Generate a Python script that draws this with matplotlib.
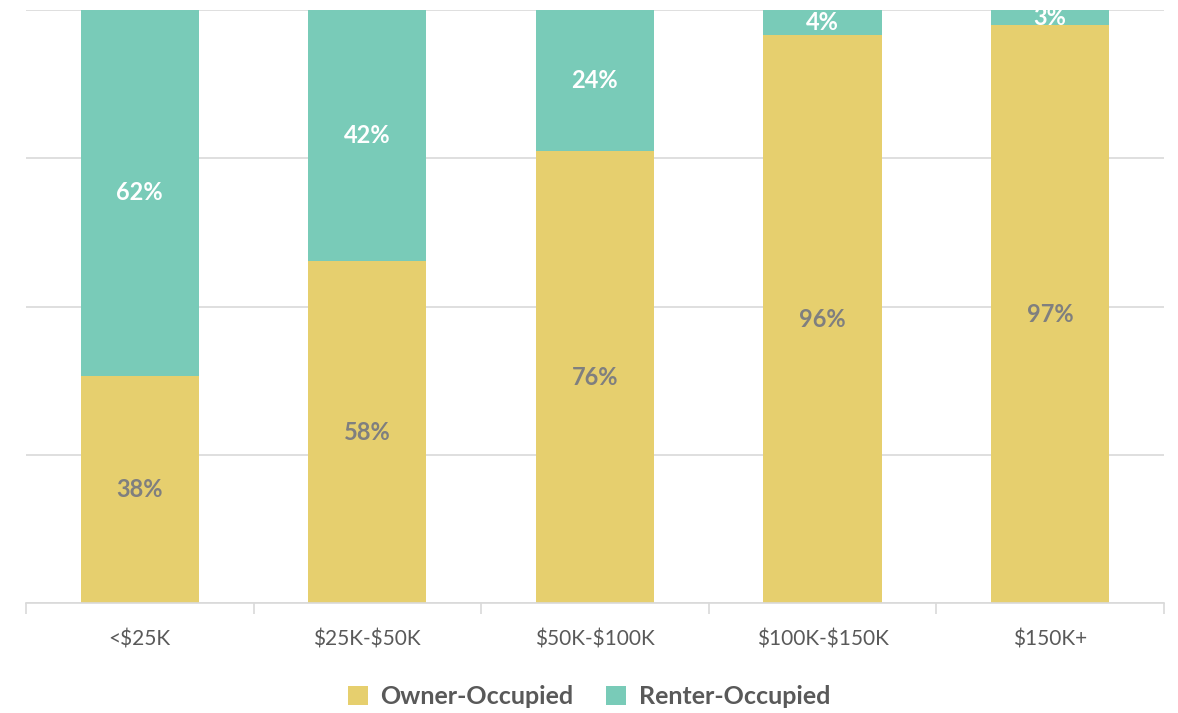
import matplotlib
matplotlib.use("Agg")
import matplotlib.pyplot as plt
import numpy as np

categories = ['<$25K', '$25K-$50K', '$50K-$100K', '$100K-$150K', '$150K+']
owner = [38.3, 57.7, 76.2, 95.8, 97.4]
renter = [100 - v for v in owner]

owner_color = '#E6CF6E'
renter_color = '#79CBB8'

plt.rcParams['font.family'] = ['Lato', 'DejaVu Sans']
plt.rcParams['text.parse_math'] = False

fig = plt.figure(figsize=(11.78, 7.13), dpi=100)
ax = fig.add_axes([0.022, 0.154, 0.966, 0.832])

x = np.arange(len(categories))
w = 0.52
b1 = ax.bar(x, owner, w, color=owner_color, label='Owner-Occupied', zorder=2)
b2 = ax.bar(x, renter, w, bottom=owner, color=renter_color, label='Renter-Occupied', zorder=2)

for i in range(len(categories)):
    ax.text(x[i], owner[i] / 2, '%.0f%%' % owner[i], ha='center', va='center',
            fontsize=17, fontweight='bold', color='#7F7F7F', zorder=3)
    ax.text(x[i], owner[i] + renter[i] / 2, '%.0f%%' % renter[i], ha='center', va='center',
            fontsize=17, fontweight='bold', color='white', zorder=3)

ax.set_xlim(-0.5, len(categories) - 0.5)
ax.set_ylim(0, 100)
ax.set_yticks([0, 25, 50, 75, 100])
ax.yaxis.grid(True, color='#D9D9D9', linewidth=1.2, zorder=0)
ax.tick_params(axis='y', length=0, labelleft=False)
ax.set_xticks(x)
ax.set_xticklabels(categories, fontsize=15, color='#595959')
ax.tick_params(axis='x', which='major', length=0, pad=19)
ax.set_xticks(np.arange(-0.5, len(categories)), minor=True)
ax.tick_params(axis='x', which='minor', length=8, color='#D9D9D9', width=1.2)
for s in ['top', 'left', 'right']:
    ax.spines[s].set_visible(False)
ax.spines['bottom'].set_color('#D9D9D9')
ax.spines['bottom'].set_linewidth(1.2)

leg = fig.legend(handles=[b1, b2], loc='center', bbox_to_anchor=(0.5, 0.023), ncol=2,
                 frameon=False, handlelength=0.8, handleheight=0.8, handletextpad=0.5,
                 columnspacing=1.3, prop={'size': 18, 'weight': 'bold'})
for t in leg.get_texts():
    t.set_color('#595959')

plt.savefig('out.png', dpi=100)
plt.close()
